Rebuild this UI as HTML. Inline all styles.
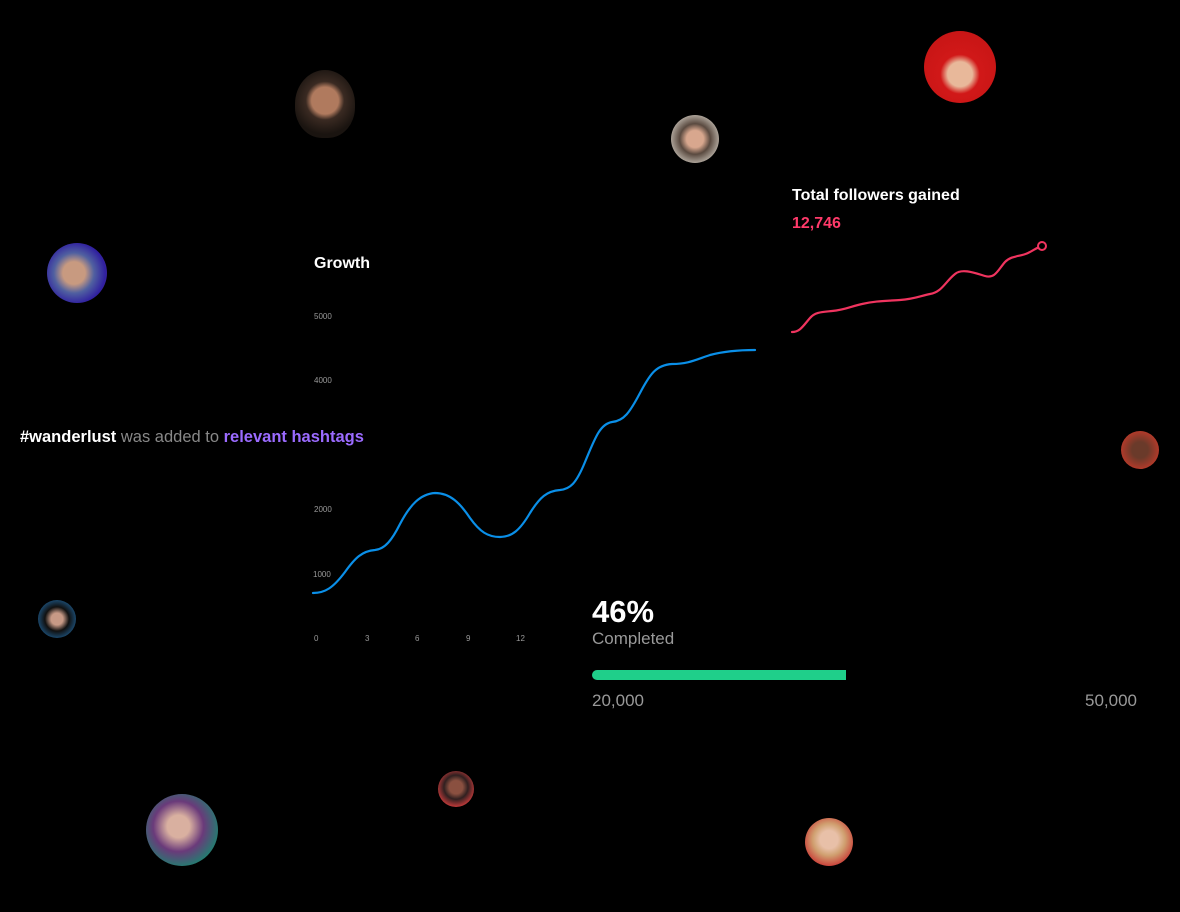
<!DOCTYPE html>
<html><head><style>
html,body{margin:0;padding:0;background:#000;width:1180px;height:912px;overflow:hidden;font-family:"Liberation Sans",sans-serif}
.t{position:absolute;white-space:nowrap}
.av{position:absolute;border-radius:50%}
.ax{position:absolute;font-size:8px;color:#999}
</style></head><body>
<div class="av" style="left:295px;top:70px;width:60px;height:68px;background:radial-gradient(circle at 50% 45%,#b07a5e 0 28%,#3a2a22 40%,#1a1410 70%);border-radius:50% 50% 45% 45%"></div>
<div class="av" style="left:924px;top:31px;width:72px;height:72px;background:radial-gradient(circle at 50% 60%,#e8b89a 0 22%,#d11818 35%,#c21414 100%)"></div>
<div class="av" style="left:671px;top:115px;width:48px;height:48px;background:radial-gradient(circle at 50% 50%,#d8a78e 0 25%,#5a4a40 45%,#c9c2b8 80%)"></div>
<div class="av" style="left:47px;top:243px;width:60px;height:60px;background:radial-gradient(circle at 45% 50%,#c89a80 0 25%,#5060a0 45%,#3020a0 70%,#6a2080 100%)"></div>
<div class="av" style="left:1121px;top:431px;width:38px;height:38px;background:radial-gradient(circle at 50% 50%,#6a3a2a 0 30%,#b03a2a 70%)"></div>
<div class="av" style="left:38px;top:600px;width:38px;height:38px;background:radial-gradient(circle at 50% 50%,#c89a86 0 22%,#111 45%,#1e5a8a 80%)"></div>
<div class="av" style="left:146px;top:794px;width:72px;height:72px;background:radial-gradient(circle at 45% 45%,#d9b0a0 0 20%,#6a3a7a 45%,#208070 75%,#c040a0 100%)"></div>
<div class="av" style="left:438px;top:771px;width:36px;height:36px;background:radial-gradient(circle at 50% 45%,#8a5040 0 25%,#302020 45%,#e04040 80%)"></div>
<div class="av" style="left:805px;top:818px;width:48px;height:48px;background:radial-gradient(circle at 50% 45%,#e8c0a8 0 25%,#d0a070 45%,#c83030 80%)"></div>

<div class="t" style="left:792px;top:187px;font-size:16px;font-weight:bold;color:#fff">Total followers gained</div>
<div class="t" style="left:792px;top:215px;font-size:16px;font-weight:bold;color:#ff3a6a">12,746</div>
<div class="t" style="left:314px;top:255px;font-size:16px;font-weight:bold;color:#fff">Growth</div>
<div class="t" style="left:20px;top:428px;font-size:16.5px;color:#888"><b style="color:#fff">#wanderlust</b> was added to <b style="color:#9b6bff">relevant hashtags</b></div>

<div class="ax" style="left:314px;top:312px">5000</div>
<div class="ax" style="left:314px;top:376px">4000</div>
<div class="ax" style="left:314px;top:505px">2000</div>
<div class="ax" style="left:313px;top:570px">1000</div>
<div class="ax" style="left:314px;top:634px">0</div>
<div class="ax" style="left:365px;top:634px">3</div>
<div class="ax" style="left:415px;top:634px">6</div>
<div class="ax" style="left:466px;top:634px">9</div>
<div class="ax" style="left:516px;top:634px">12</div>

<svg width="1180" height="912" style="position:absolute;left:0;top:0">
<path fill="none" stroke="#0a8fe8" stroke-width="2.2" stroke-linecap="round" d="M313,593 C325,593 333,588 345,572 C355,558 362,551 375,550 C385,549 392,540 400,524 C410,505 420,494 435,493 C450,493 460,503 470,518 C480,532 488,537 500,537 C512,537 520,530 530,513 C540,497 547,491 560,490 C570,489 576,484 585,462 C595,438 600,424 612,422 C624,421 630,412 640,393 C650,374 656,365 672,364 C688,364 695,360 710,355 C725,351 740,350 755,350"/>
<path fill="none" stroke="#f0345f" stroke-width="2.2" stroke-linecap="round" d="M792,332 C800,332 803,326 810,318 C815,312 822,312 832,311 C845,310 852,306 862,304 C875,301 885,301 900,300 C915,299 920,296 930,294 C942,292 945,282 955,274 C962,268 975,273 985,276 C995,279 998,270 1005,262 C1012,255 1020,257 1028,253 C1034,250 1038,247 1042,246"/>
<circle cx="1042" cy="246" r="4" fill="#000" stroke="#f0345f" stroke-width="2"/>
</svg>

<div class="t" style="left:592px;top:594px;font-size:31px;font-weight:bold;color:#fff">46%</div>
<div class="t" style="left:592px;top:629px;font-size:17px;color:#999">Completed</div>
<div style="position:absolute;left:592px;top:670px;width:254px;height:10px;background:#1fcf8a;border-radius:5px 0 0 5px"></div>
<div class="t" style="left:592px;top:691px;font-size:17px;color:#999">20,000</div>
<div class="t" style="left:1085px;top:691px;font-size:17px;color:#999">50,000</div>
</body></html>
